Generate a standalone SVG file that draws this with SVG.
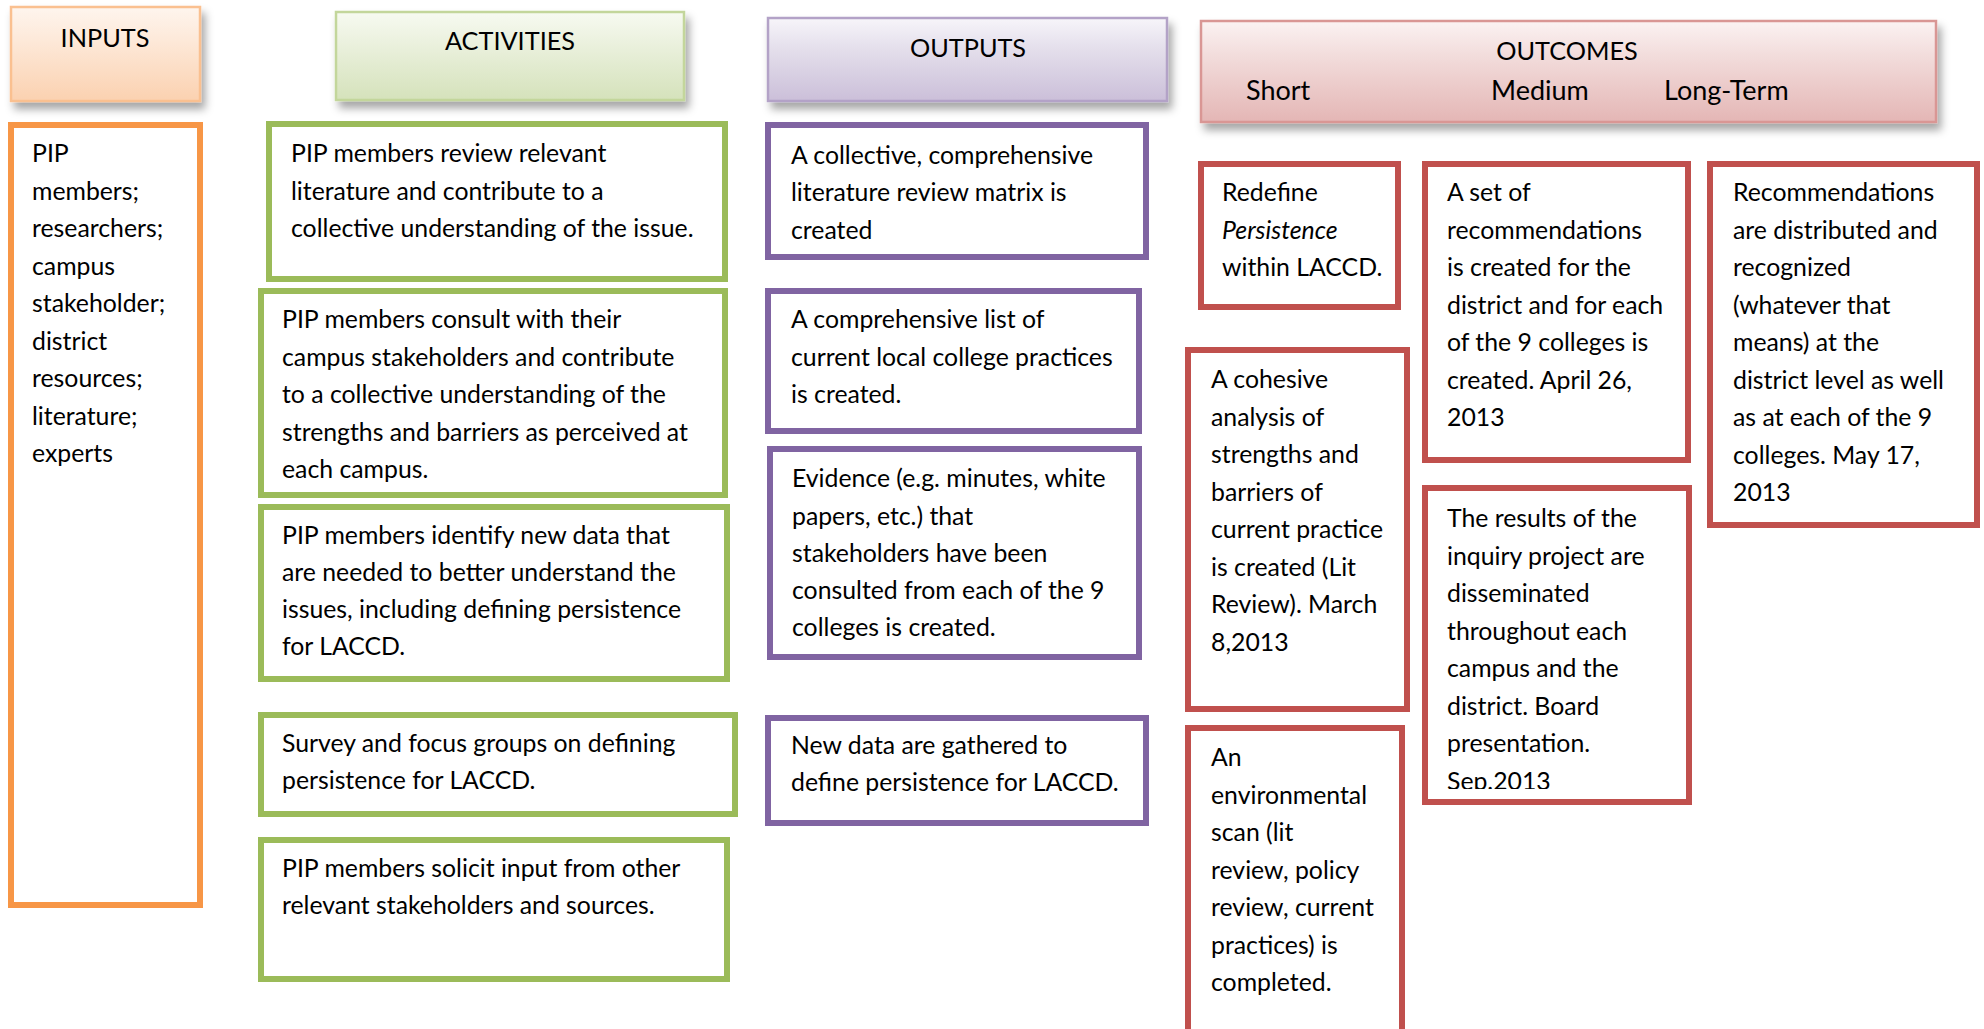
<svg xmlns="http://www.w3.org/2000/svg" width="1984" height="1029" viewBox="0 0 1984 1029">
<style>
text{font-family:Lato,"Liberation Sans",sans-serif;fill:#000}
.t{font-size:24.8px}
.h{font-size:25.3px;text-anchor:middle}
.hs{font-size:27px}
.box{fill:#fff;stroke-width:6}
.or{stroke:#f79646}
.gr{stroke:#9bbb59}
.pu{stroke:#8064a2}
.rd{stroke:#c0504d}
.hd{stroke-width:2.5;filter:url(#sh)}
</style>
<defs>
<filter id="sh" x="-10%" y="-20%" width="125%" height="150%">
<feDropShadow dx="4" dy="7" stdDeviation="4" flood-color="#000" flood-opacity="0.35"/>
</filter>
<linearGradient id="gO" x1="0" y1="0" x2="0" y2="1"><stop offset="0" stop-color="#fef5ee"/><stop offset="0.35" stop-color="#fde9d9"/><stop offset="1" stop-color="#fbd1b0"/></linearGradient>
<linearGradient id="gG" x1="0" y1="0" x2="0" y2="1"><stop offset="0" stop-color="#f7faf1"/><stop offset="0.35" stop-color="#ebf1de"/><stop offset="1" stop-color="#d5e2bb"/></linearGradient>
<linearGradient id="gP" x1="0" y1="0" x2="0" y2="1"><stop offset="0" stop-color="#f7f5fa"/><stop offset="0.35" stop-color="#e5e0ec"/><stop offset="1" stop-color="#cbbfd9"/></linearGradient>
<linearGradient id="gR" x1="0" y1="0" x2="0" y2="1"><stop offset="0" stop-color="#fbf2f2"/><stop offset="0.35" stop-color="#f2dcdb"/><stop offset="1" stop-color="#e4b6b5"/></linearGradient>
<clipPath id="cM2"><rect x="1422" y="485" width="270" height="304"/></clipPath>
</defs>

<g id="inputs-header">
<rect x="11" y="7" width="189" height="94" fill="url(#gO)" stroke="#fac090" class="hd"/>
<text class="h" x="105" y="47">INPUTS</text>
</g>
<g id="inputs">
<rect class="box or" x="11" y="125" width="189" height="780"/>
<text class="t" x="32" y="162">PIP</text>
<text class="t" x="32" y="199.5">members;</text>
<text class="t" x="32" y="237">researchers;</text>
<text class="t" x="32" y="274.5">campus</text>
<text class="t" x="32" y="312">stakeholder;</text>
<text class="t" x="32" y="349.5">district</text>
<text class="t" x="32" y="387">resources;</text>
<text class="t" x="32" y="424.5">literature;</text>
<text class="t" x="32" y="462">experts</text>
</g>

<g id="activities-header">
<rect x="336" y="12" width="348" height="88" fill="url(#gG)" stroke="#c3d69b" class="hd"/>
<text class="h" x="510" y="50">ACTIVITIES</text>
</g>
<g id="activity-1">
<rect class="box gr" x="269" y="124" width="456" height="155"/>
<text class="t" x="291" y="162">PIP members review relevant</text>
<text class="t" x="291" y="199.5">literature and contribute to a</text>
<text class="t" x="291" y="237">collective understanding of the issue.</text>
</g>
<g id="activity-2">
<rect class="box gr" x="261" y="291" width="464" height="204"/>
<text class="t" x="282" y="328">PIP members consult with their</text>
<text class="t" x="282" y="365.5">campus stakeholders and contribute</text>
<text class="t" x="282" y="403">to a collective understanding of the</text>
<text class="t" x="282" y="440.5">strengths and barriers as perceived at</text>
<text class="t" x="282" y="478">each campus.</text>
</g>
<g id="activity-3">
<rect class="box gr" x="261" y="507" width="466" height="172"/>
<text class="t" x="282" y="544">PIP members identify new data that</text>
<text class="t" x="282" y="581">are needed to better understand the</text>
<text class="t" x="282" y="618">issues, including defining persistence</text>
<text class="t" x="282" y="655">for LACCD.</text>
</g>
<g id="activity-4">
<rect class="box gr" x="261" y="715" width="474" height="99"/>
<text class="t" x="282" y="752">Survey and focus groups on defining</text>
<text class="t" x="282" y="789">persistence for LACCD.</text>
</g>
<g id="activity-5">
<rect class="box gr" x="261" y="840" width="466" height="139"/>
<text class="t" x="282" y="877">PIP members solicit input from other</text>
<text class="t" x="282" y="914">relevant stakeholders and sources.</text>
</g>

<g id="outputs-header">
<rect x="768" y="18" width="399" height="83" fill="url(#gP)" stroke="#b3a2c7" class="hd"/>
<text class="h" x="968" y="57">OUTPUTS</text>
</g>
<g id="output-1">
<rect class="box pu" x="768" y="125" width="378" height="132"/>
<text class="t" x="791" y="164">A collective, comprehensive</text>
<text class="t" x="791" y="201">literature review matrix is</text>
<text class="t" x="791" y="238.5">created</text>
</g>
<g id="output-2">
<rect class="box pu" x="768" y="291" width="371" height="140"/>
<text class="t" x="791" y="328">A comprehensive list of</text>
<text class="t" x="791" y="366">current local college practices</text>
<text class="t" x="791" y="403">is created.</text>
</g>
<g id="output-3">
<rect class="box pu" x="770" y="449" width="369" height="208"/>
<text class="t" x="792" y="487">Evidence (e.g. minutes, white</text>
<text class="t" x="792" y="524.5">papers, etc.) that</text>
<text class="t" x="792" y="562">stakeholders have been</text>
<text class="t" x="792" y="599">consulted from each of the 9</text>
<text class="t" x="792" y="636">colleges is created.</text>
</g>
<g id="output-4">
<rect class="box pu" x="768" y="718" width="378" height="105"/>
<text class="t" x="791" y="754">New data are gathered to</text>
<text class="t" x="791" y="791">define persistence for LACCD.</text>
</g>

<g id="outcomes-header">
<rect x="1201" y="21" width="735" height="101" fill="url(#gR)" stroke="#d99694" class="hd"/>
<text class="h" x="1567" y="60">OUTCOMES</text>
<text class="hs" x="1246" y="100">Short</text>
<text class="hs" x="1491" y="100">Medium</text>
<text class="hs" x="1664" y="100">Long-Term</text>
</g>
<g id="short-1">
<rect class="box rd" x="1201" y="164" width="197" height="143"/>
<text class="t" x="1222" y="201">Redefine</text>
<text class="t" x="1222" y="238.5" font-style="italic">Persistence</text>
<text class="t" x="1222" y="276">within LACCD.</text>
</g>
<g id="short-2">
<rect class="box rd" x="1188" y="350" width="219" height="359"/>
<text class="t" x="1211" y="388">A cohesive</text>
<text class="t" x="1211" y="425.5">analysis of</text>
<text class="t" x="1211" y="463">strengths and</text>
<text class="t" x="1211" y="500.5">barriers of</text>
<text class="t" x="1211" y="538">current practice</text>
<text class="t" x="1211" y="575.5">is created (Lit</text>
<text class="t" x="1211" y="613">Review). March</text>
<text class="t" x="1211" y="650.5">8,2013</text>
</g>
<g id="short-3">
<rect class="box rd" x="1188" y="728" width="214" height="320"/>
<text class="t" x="1211" y="766">An</text>
<text class="t" x="1211" y="803.5">environmental</text>
<text class="t" x="1211" y="841">scan (lit</text>
<text class="t" x="1211" y="878.5">review, policy</text>
<text class="t" x="1211" y="916">review, current</text>
<text class="t" x="1211" y="953.5">practices) is</text>
<text class="t" x="1211" y="991">completed.</text>
</g>
<g id="medium-1">
<rect class="box rd" x="1425" y="164" width="263" height="296"/>
<text class="t" x="1447" y="201">A set of</text>
<text class="t" x="1447" y="238.5">recommendations</text>
<text class="t" x="1447" y="276">is created for the</text>
<text class="t" x="1447" y="313.5">district and for each</text>
<text class="t" x="1447" y="351">of the 9 colleges is</text>
<text class="t" x="1447" y="388.5">created. April 26,</text>
<text class="t" x="1447" y="426">2013</text>
</g>
<g id="medium-2">
<rect class="box rd" x="1425" y="488" width="264" height="314"/>
<g clip-path="url(#cM2)">
<text class="t" x="1447" y="527">The results of the</text>
<text class="t" x="1447" y="564.5">inquiry project are</text>
<text class="t" x="1447" y="602">disseminated</text>
<text class="t" x="1447" y="639.5">throughout each</text>
<text class="t" x="1447" y="677">campus and the</text>
<text class="t" x="1447" y="714.5">district. Board</text>
<text class="t" x="1447" y="752">presentation.</text>
<text class="t" x="1447" y="789.5">Sep.2013</text>
</g>
</g>
<g id="long-1">
<rect class="box rd" x="1710" y="164" width="267" height="361"/>
<text class="t" x="1733" y="201">Recommendations</text>
<text class="t" x="1733" y="238.5">are distributed and</text>
<text class="t" x="1733" y="276">recognized</text>
<text class="t" x="1733" y="313.5">(whatever that</text>
<text class="t" x="1733" y="351">means) at the</text>
<text class="t" x="1733" y="388.5">district level as well</text>
<text class="t" x="1733" y="426">as at each of the 9</text>
<text class="t" x="1733" y="463.5">colleges. May 17,</text>
<text class="t" x="1733" y="501">2013</text>
</g>
<g id="connectors"></g>
</svg>
